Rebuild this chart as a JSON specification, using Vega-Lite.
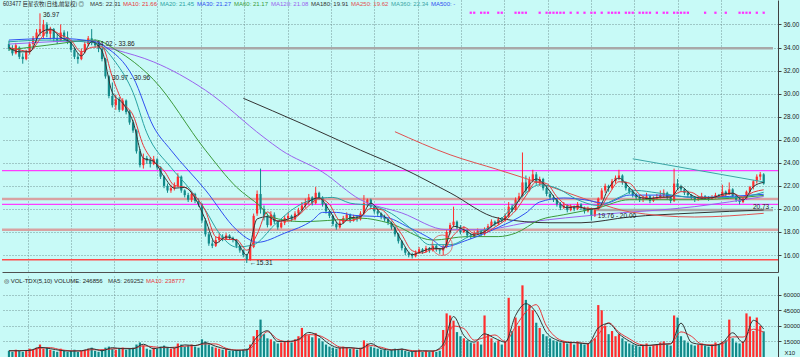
{
"$schema":"https://vega.github.io/schema/vega-lite/v6.json",
"background":"#c8faf7",
"padding":0,
"spacing":4,
"resolve":{"scale":{"color":"independent"},"legend":{"color":"independent"}},
"config":{"view":{"stroke":null},"font":"Liberation Sans","axis":{"labelFont":"Liberation Sans","labelFontSize":6.3,"labelColor":"#202020","domainColor":"#404040","tickColor":"#404040","gridColor":"#6a8c8d","gridDash":[1,2],"gridOpacity":0.9}},
"datasets":{
"k":[
{"i":0,"o":34.3,"h":34.6,"l":33.7,"c":33.9,"v":6000},{"i":1,"o":33.9,"h":34.2,"l":33.3,"c":33.5,"v":5000},{"i":2,"o":33.5,"h":34.4,"l":33.4,"c":34.2,"v":7000},{"i":3,"o":34.0,"h":34.1,"l":33.0,"c":33.2,"v":6000},{"i":4,"o":33.2,"h":33.5,"l":32.6,"c":33.0,"v":5000},
{"i":5,"o":33.0,"h":33.8,"l":32.9,"c":33.6,"v":6000},{"i":6,"o":33.6,"h":34.5,"l":33.4,"c":34.3,"v":8000},{"i":7,"o":34.3,"h":35.0,"l":34.0,"c":34.8,"v":7000},{"i":8,"o":34.8,"h":35.6,"l":34.5,"c":35.3,"v":9000},{"i":9,"o":35.3,"h":36.97,"l":35.0,"c":35.6,"v":12000},
{"i":10,"o":35.0,"h":36.4,"l":34.8,"c":36.0,"v":8000},{"i":11,"o":36.0,"h":36.2,"l":34.9,"c":35.2,"v":9000},{"i":12,"o":35.2,"h":35.8,"l":34.7,"c":35.6,"v":7000},{"i":13,"o":35.6,"h":35.7,"l":34.5,"c":34.8,"v":6000},{"i":14,"o":34.8,"h":35.2,"l":34.3,"c":34.6,"v":5000},
{"i":15,"o":34.6,"h":36.0,"l":34.5,"c":35.3,"v":8000},{"i":16,"o":35.3,"h":35.5,"l":34.6,"c":34.9,"v":6000},{"i":17,"o":34.9,"h":35.4,"l":34.3,"c":34.5,"v":5000},{"i":18,"o":34.5,"h":34.6,"l":33.6,"c":33.8,"v":6000},{"i":19,"o":33.8,"h":34.0,"l":33.0,"c":33.2,"v":7000},
{"i":20,"o":33.2,"h":33.5,"l":32.6,"c":33.0,"v":5000},{"i":21,"o":33.0,"h":33.9,"l":32.9,"c":33.6,"v":6000},{"i":22,"o":33.6,"h":34.5,"l":33.5,"c":34.3,"v":7000},{"i":23,"o":34.3,"h":35.0,"l":34.1,"c":34.8,"v":8000},{"i":24,"o":34.8,"h":35.6,"l":34.2,"c":34.4,"v":9000},
{"i":25,"o":34.4,"h":34.7,"l":34.0,"c":34.2,"v":6000},{"i":26,"o":34.2,"h":34.5,"l":33.6,"c":33.9,"v":5000},{"i":27,"o":33.9,"h":34.0,"l":32.8,"c":33.0,"v":7000},{"i":28,"o":33.0,"h":33.1,"l":31.3,"c":31.5,"v":9000},{"i":29,"o":31.5,"h":31.6,"l":29.6,"c":29.8,"v":10000},
{"i":30,"o":29.8,"h":30.97,"l":28.8,"c":29.0,"v":8000},{"i":31,"o":29.0,"h":29.9,"l":28.6,"c":29.5,"v":7000},{"i":32,"o":29.5,"h":29.7,"l":28.4,"c":28.6,"v":8000},{"i":33,"o":28.6,"h":29.6,"l":28.5,"c":29.4,"v":9000},{"i":34,"o":29.4,"h":29.5,"l":28.2,"c":28.4,"v":7000},
{"i":35,"o":28.4,"h":28.6,"l":27.3,"c":27.5,"v":8000},{"i":36,"o":27.5,"h":27.7,"l":26.6,"c":26.8,"v":9000},{"i":37,"o":26.8,"h":26.9,"l":24.8,"c":25.0,"v":12000},{"i":38,"o":25.0,"h":25.2,"l":23.6,"c":23.8,"v":14000},{"i":39,"o":23.8,"h":24.8,"l":23.5,"c":24.4,"v":11000},
{"i":40,"o":24.4,"h":24.6,"l":23.9,"c":24.2,"v":8000},{"i":41,"o":24.2,"h":24.5,"l":23.6,"c":23.9,"v":7000},{"i":42,"o":23.9,"h":24.6,"l":23.8,"c":24.3,"v":9000},{"i":43,"o":24.3,"h":24.4,"l":23.4,"c":23.6,"v":8000},{"i":44,"o":23.6,"h":23.7,"l":22.6,"c":22.8,"v":10000},
{"i":45,"o":22.8,"h":22.9,"l":21.8,"c":22.0,"v":11000},{"i":46,"o":22.0,"h":22.2,"l":21.4,"c":21.6,"v":9000},{"i":47,"o":21.6,"h":22.1,"l":21.4,"c":21.8,"v":8000},{"i":48,"o":21.8,"h":22.3,"l":21.6,"c":22.0,"v":9000},{"i":49,"o":22.0,"h":23.1,"l":21.9,"c":22.8,"v":13000},
{"i":50,"o":22.8,"h":22.9,"l":21.4,"c":21.6,"v":12000},{"i":51,"o":21.6,"h":21.7,"l":21.0,"c":21.2,"v":10000},{"i":52,"o":21.2,"h":21.4,"l":20.6,"c":20.8,"v":11000},{"i":53,"o":20.8,"h":21.5,"l":20.6,"c":21.3,"v":12000},{"i":54,"o":21.3,"h":21.4,"l":20.5,"c":20.7,"v":10000},
{"i":55,"o":20.7,"h":20.9,"l":20.2,"c":20.4,"v":9000},{"i":56,"o":20.4,"h":20.5,"l":18.8,"c":19.0,"v":17000},{"i":57,"o":19.0,"h":19.2,"l":17.6,"c":17.8,"v":15000},{"i":58,"o":17.8,"h":18.0,"l":16.8,"c":17.0,"v":12000},{"i":59,"o":17.0,"h":17.3,"l":16.6,"c":16.8,"v":10000},
{"i":60,"o":16.8,"h":17.6,"l":16.7,"c":17.3,"v":9000},{"i":61,"o":17.3,"h":17.9,"l":17.1,"c":17.6,"v":8000},{"i":62,"o":17.6,"h":17.8,"l":17.2,"c":17.4,"v":7000},{"i":63,"o":17.4,"h":17.9,"l":17.3,"c":17.7,"v":8000},{"i":64,"o":17.7,"h":17.8,"l":17.3,"c":17.5,"v":6000},
{"i":65,"o":17.5,"h":17.6,"l":17.1,"c":17.3,"v":6000},{"i":66,"o":17.3,"h":17.4,"l":16.6,"c":16.8,"v":7000},{"i":67,"o":16.8,"h":16.9,"l":16.2,"c":16.4,"v":6000},{"i":68,"o":16.4,"h":16.5,"l":15.8,"c":16.0,"v":7000},{"i":69,"o":16.0,"h":16.1,"l":15.31,"c":15.6,"v":8000},
{"i":70,"o":15.6,"h":16.9,"l":15.5,"c":16.7,"v":12000},{"i":71,"o":16.7,"h":19.6,"l":16.6,"c":19.4,"v":20000},{"i":72,"o":19.6,"h":21.6,"l":19.4,"c":21.3,"v":26000},{"i":73,"o":21.3,"h":23.5,"l":19.6,"c":20.0,"v":36000},{"i":74,"o":20.0,"h":20.3,"l":19.0,"c":19.4,"v":22000},
{"i":75,"o":19.4,"h":19.6,"l":18.4,"c":18.6,"v":18000},{"i":76,"o":18.6,"h":19.8,"l":18.5,"c":19.5,"v":17000},{"i":77,"o":19.5,"h":19.7,"l":18.7,"c":18.9,"v":15000},{"i":78,"o":18.9,"h":19.0,"l":18.2,"c":18.4,"v":13000},{"i":79,"o":18.4,"h":19.0,"l":18.3,"c":18.8,"v":14000},
{"i":80,"o":18.8,"h":19.4,"l":18.6,"c":19.2,"v":15000},{"i":81,"o":19.2,"h":19.7,"l":19.0,"c":19.4,"v":16000},{"i":82,"o":19.4,"h":19.5,"l":18.9,"c":19.1,"v":14000},{"i":83,"o":19.1,"h":19.8,"l":19.0,"c":19.6,"v":17000},{"i":84,"o":19.6,"h":20.1,"l":19.4,"c":19.9,"v":20000},
{"i":85,"o":19.9,"h":20.6,"l":19.8,"c":20.3,"v":28000},{"i":86,"o":20.3,"h":20.9,"l":20.1,"c":20.6,"v":22000},{"i":87,"o":20.6,"h":21.3,"l":20.4,"c":21.0,"v":21000},{"i":88,"o":21.0,"h":21.1,"l":20.3,"c":20.5,"v":19000},{"i":89,"o":20.5,"h":21.9,"l":20.4,"c":21.4,"v":23000},
{"i":90,"o":21.4,"h":21.5,"l":20.8,"c":21.0,"v":18000},{"i":91,"o":21.0,"h":21.1,"l":20.2,"c":20.4,"v":15000},{"i":92,"o":20.4,"h":20.5,"l":19.6,"c":19.8,"v":12000},{"i":93,"o":19.8,"h":19.9,"l":19.2,"c":19.4,"v":10000},{"i":94,"o":19.4,"h":19.5,"l":18.5,"c":18.7,"v":9000},
{"i":95,"o":18.7,"h":18.9,"l":18.2,"c":18.4,"v":8000},{"i":96,"o":18.4,"h":19.0,"l":18.3,"c":18.8,"v":9000},{"i":97,"o":18.8,"h":19.4,"l":18.7,"c":19.2,"v":10000},{"i":98,"o":19.2,"h":19.7,"l":19.0,"c":19.5,"v":9000},{"i":99,"o":19.5,"h":19.6,"l":18.8,"c":19.0,"v":8000},
{"i":100,"o":19.0,"h":19.5,"l":18.9,"c":19.3,"v":8000},{"i":101,"o":19.3,"h":19.4,"l":18.9,"c":19.1,"v":7000},{"i":102,"o":19.1,"h":19.8,"l":19.0,"c":19.6,"v":9000},{"i":103,"o":19.6,"h":21.2,"l":19.5,"c":20.5,"v":16000},{"i":104,"o":20.5,"h":20.9,"l":20.2,"c":20.8,"v":13000},
{"i":105,"o":20.8,"h":20.9,"l":20.0,"c":20.2,"v":10000},{"i":106,"o":20.2,"h":20.3,"l":19.6,"c":19.8,"v":9000},{"i":107,"o":19.8,"h":20.0,"l":19.4,"c":19.6,"v":8000},{"i":108,"o":19.6,"h":19.7,"l":19.1,"c":19.3,"v":7000},{"i":109,"o":19.3,"h":19.5,"l":18.9,"c":19.1,"v":7000},
{"i":110,"o":19.1,"h":19.2,"l":18.6,"c":18.8,"v":6000},{"i":111,"o":18.8,"h":18.9,"l":18.2,"c":18.4,"v":7000},{"i":112,"o":18.4,"h":18.5,"l":17.6,"c":17.8,"v":8000},{"i":113,"o":17.8,"h":17.9,"l":17.0,"c":17.2,"v":7000},{"i":114,"o":17.2,"h":17.3,"l":16.4,"c":16.6,"v":8000},
{"i":115,"o":16.6,"h":16.7,"l":16.0,"c":16.2,"v":6000},{"i":116,"o":16.2,"h":16.3,"l":15.8,"c":16.0,"v":5000},{"i":117,"o":16.0,"h":16.2,"l":15.7,"c":15.9,"v":5000},{"i":118,"o":15.9,"h":16.4,"l":15.8,"c":16.2,"v":6000},{"i":119,"o":16.2,"h":16.7,"l":16.1,"c":16.5,"v":7000},
{"i":120,"o":16.5,"h":16.6,"l":16.1,"c":16.3,"v":5000},{"i":121,"o":16.3,"h":16.8,"l":16.2,"c":16.6,"v":6000},{"i":122,"o":16.6,"h":16.7,"l":16.2,"c":16.4,"v":5000},{"i":123,"o":16.4,"h":17.0,"l":16.3,"c":16.8,"v":6000},{"i":124,"o":16.8,"h":16.9,"l":16.3,"c":16.5,"v":5000},
{"i":125,"o":16.5,"h":16.6,"l":16.1,"c":16.4,"v":6000},{"i":126,"o":16.4,"h":16.9,"l":16.0,"c":16.7,"v":26000},{"i":127,"o":16.7,"h":18.2,"l":16.6,"c":18.0,"v":42000},{"i":128,"o":18.0,"h":18.8,"l":17.8,"c":18.6,"v":40000},{"i":129,"o":18.6,"h":20.2,"l":18.4,"c":18.9,"v":35000},
{"i":130,"o":18.9,"h":19.0,"l":18.2,"c":18.4,"v":24000},{"i":131,"o":18.4,"h":18.6,"l":17.8,"c":18.0,"v":20000},{"i":132,"o":18.0,"h":18.5,"l":17.9,"c":18.2,"v":18000},{"i":133,"o":18.2,"h":18.3,"l":17.5,"c":17.7,"v":16000},{"i":134,"o":17.7,"h":17.9,"l":17.4,"c":17.6,"v":14000},
{"i":135,"o":17.6,"h":18.1,"l":17.5,"c":17.9,"v":13000},{"i":136,"o":17.9,"h":18.3,"l":17.8,"c":18.1,"v":15000},{"i":137,"o":18.1,"h":18.2,"l":17.6,"c":17.8,"v":12000},{"i":138,"o":17.8,"h":18.4,"l":17.7,"c":18.2,"v":40000},{"i":139,"o":18.2,"h":18.7,"l":18.0,"c":18.5,"v":22000},
{"i":140,"o":18.5,"h":19.1,"l":18.4,"c":18.9,"v":18000},{"i":141,"o":18.9,"h":19.0,"l":18.5,"c":18.7,"v":14000},{"i":142,"o":18.7,"h":19.3,"l":18.6,"c":19.1,"v":16000},{"i":143,"o":19.1,"h":19.3,"l":18.8,"c":19.0,"v":12000},{"i":144,"o":19.0,"h":19.6,"l":18.9,"c":19.4,"v":15000},
{"i":145,"o":19.4,"h":20.6,"l":19.3,"c":20.2,"v":57000},{"i":146,"o":20.2,"h":20.4,"l":19.7,"c":19.9,"v":25000},{"i":147,"o":19.9,"h":21.0,"l":19.8,"c":20.8,"v":38000},{"i":148,"o":20.8,"h":21.4,"l":20.6,"c":21.1,"v":30000},{"i":149,"o":21.1,"h":24.9,"l":21.0,"c":22.3,"v":69000},
{"i":150,"o":22.3,"h":22.9,"l":21.4,"c":21.6,"v":55000},{"i":151,"o":21.6,"h":22.8,"l":21.5,"c":22.5,"v":50000},{"i":152,"o":22.5,"h":23.4,"l":22.3,"c":23.0,"v":45000},{"i":153,"o":23.0,"h":23.2,"l":22.1,"c":22.3,"v":33000},{"i":154,"o":22.3,"h":22.8,"l":22.0,"c":22.6,"v":28000},
{"i":155,"o":22.6,"h":22.7,"l":21.6,"c":21.8,"v":22000},{"i":156,"o":21.8,"h":22.0,"l":21.1,"c":21.3,"v":20000},{"i":157,"o":21.3,"h":21.5,"l":20.8,"c":21.0,"v":18000},{"i":158,"o":21.0,"h":21.2,"l":20.6,"c":20.8,"v":16000},{"i":159,"o":20.8,"h":20.9,"l":20.2,"c":20.4,"v":15000},
{"i":160,"o":20.4,"h":20.6,"l":19.9,"c":20.1,"v":14000},{"i":161,"o":20.1,"h":20.6,"l":20.0,"c":20.3,"v":15000},{"i":162,"o":20.3,"h":20.4,"l":19.7,"c":19.9,"v":13000},{"i":163,"o":19.9,"h":20.4,"l":19.8,"c":20.2,"v":14000},{"i":164,"o":20.2,"h":20.3,"l":19.8,"c":20.0,"v":12000},
{"i":165,"o":20.0,"h":20.6,"l":19.9,"c":20.4,"v":15000},{"i":166,"o":20.4,"h":20.5,"l":19.9,"c":20.1,"v":13000},{"i":167,"o":20.1,"h":20.2,"l":19.6,"c":19.8,"v":12000},{"i":168,"o":19.8,"h":20.2,"l":19.7,"c":20.0,"v":13000},{"i":169,"o":20.0,"h":20.1,"l":19.0,"c":19.4,"v":16000},
{"i":170,"o":19.4,"h":20.0,"l":19.3,"c":19.9,"v":18000},{"i":171,"o":20.0,"h":21.0,"l":19.9,"c":20.9,"v":50000},{"i":172,"o":20.9,"h":21.8,"l":20.8,"c":21.6,"v":45000},{"i":173,"o":21.6,"h":22.2,"l":21.4,"c":22.0,"v":30000},{"i":174,"o":22.0,"h":22.1,"l":21.5,"c":21.8,"v":22000},
{"i":175,"o":21.8,"h":22.6,"l":21.7,"c":22.4,"v":25000},{"i":176,"o":22.4,"h":22.9,"l":22.2,"c":22.7,"v":20000},{"i":177,"o":22.7,"h":23.4,"l":22.5,"c":22.9,"v":22000},{"i":178,"o":22.9,"h":23.0,"l":22.1,"c":22.3,"v":18000},{"i":179,"o":22.3,"h":22.4,"l":21.6,"c":21.8,"v":15000},
{"i":180,"o":21.8,"h":21.9,"l":21.3,"c":21.5,"v":13000},{"i":181,"o":21.5,"h":21.7,"l":21.0,"c":21.2,"v":12000},{"i":182,"o":21.2,"h":21.4,"l":20.8,"c":21.0,"v":11000},{"i":183,"o":21.0,"h":21.2,"l":20.6,"c":20.8,"v":10000},{"i":184,"o":20.8,"h":21.1,"l":20.6,"c":20.9,"v":11000},
{"i":185,"o":20.9,"h":21.4,"l":20.8,"c":21.1,"v":13000},{"i":186,"o":21.1,"h":21.2,"l":20.5,"c":20.7,"v":10000},{"i":187,"o":20.7,"h":21.1,"l":20.6,"c":20.9,"v":11000},{"i":188,"o":20.9,"h":21.3,"l":20.8,"c":21.0,"v":12000},{"i":189,"o":21.0,"h":21.6,"l":20.9,"c":21.2,"v":14000},
{"i":190,"o":21.2,"h":21.7,"l":21.0,"c":21.4,"v":15000},{"i":191,"o":21.4,"h":21.5,"l":20.8,"c":21.0,"v":12000},{"i":192,"o":21.0,"h":21.1,"l":20.5,"c":20.7,"v":11000},{"i":193,"o":20.7,"h":23.5,"l":20.6,"c":22.2,"v":40000},{"i":194,"o":22.2,"h":22.6,"l":21.7,"c":21.9,"v":38000},
{"i":195,"o":21.9,"h":22.1,"l":21.5,"c":21.7,"v":20000},{"i":196,"o":21.7,"h":21.8,"l":21.2,"c":21.4,"v":16000},{"i":197,"o":21.4,"h":21.6,"l":21.0,"c":21.2,"v":14000},{"i":198,"o":21.2,"h":21.3,"l":20.8,"c":21.0,"v":12000},{"i":199,"o":21.0,"h":21.1,"l":20.6,"c":20.8,"v":11000},
{"i":200,"o":20.8,"h":21.1,"l":20.7,"c":20.9,"v":12000},{"i":201,"o":20.9,"h":21.4,"l":20.8,"c":21.1,"v":13000},{"i":202,"o":21.1,"h":21.2,"l":20.8,"c":21.0,"v":11000},{"i":203,"o":21.0,"h":21.1,"l":20.7,"c":20.9,"v":10000},{"i":204,"o":20.9,"h":21.2,"l":20.8,"c":21.0,"v":12000},
{"i":205,"o":21.0,"h":21.4,"l":20.9,"c":21.2,"v":14000},{"i":206,"o":21.2,"h":21.3,"l":20.9,"c":21.1,"v":12000},{"i":207,"o":21.1,"h":22.1,"l":21.0,"c":21.5,"v":15000},{"i":208,"o":21.5,"h":21.6,"l":21.1,"c":21.3,"v":16000},{"i":209,"o":21.3,"h":22.3,"l":21.2,"c":21.7,"v":36000},
{"i":210,"o":21.7,"h":21.8,"l":21.0,"c":21.1,"v":18000},{"i":211,"o":21.1,"h":21.2,"l":20.6,"c":20.8,"v":14000},{"i":212,"o":20.8,"h":21.0,"l":20.4,"c":20.6,"v":13000},{"i":213,"o":20.6,"h":21.0,"l":20.5,"c":20.9,"v":15000},{"i":214,"o":20.9,"h":21.6,"l":20.8,"c":21.5,"v":42000},
{"i":215,"o":21.5,"h":22.0,"l":21.3,"c":21.9,"v":39000},{"i":216,"o":21.9,"h":22.5,"l":21.7,"c":22.4,"v":25000},{"i":217,"o":22.4,"h":23.0,"l":22.2,"c":22.8,"v":38000},{"i":218,"o":22.8,"h":23.2,"l":22.5,"c":23.0,"v":30000},{"i":219,"o":23.0,"h":23.1,"l":22.1,"c":22.2,"v":24700}
],
"ma":[
{"n":"MA120","i":0,"p":34.3},{"n":"MA120","i":25,"p":34.6},{"n":"MA120","i":28,"p":34.05},{"n":"MA120","i":31,"p":33.8},{"n":"MA120","i":42,"p":32.75},{"n":"MA120","i":57,"p":30.3},{"n":"MA120","i":74,"p":26.2},{"n":"MA120","i":79,"p":25.1},{"n":"MA120","i":91,"p":23.2},{"n":"MA120","i":102,"p":20.8},{"n":"MA120","i":114,"p":19.65},{"n":"MA120","i":127,"p":18.2},{"n":"MA120","i":137,"p":18.2},{"n":"MA120","i":152,"p":18.9},{"n":"MA120","i":171,"p":19.5},{"n":"MA120","i":199,"p":20.2},{"n":"MA120","i":219,"p":21.08},
{"n":"MA180","i":68,"p":29.6},{"n":"MA180","i":85,"p":27.4},{"n":"MA180","i":102,"p":25.1},{"n":"MA180","i":114,"p":23.55},{"n":"MA180","i":128,"p":21.4},{"n":"MA180","i":142,"p":19.2},{"n":"MA180","i":157,"p":18.8},{"n":"MA180","i":166,"p":18.8},{"n":"MA180","i":180,"p":19.3},{"n":"MA180","i":199,"p":19.65},{"n":"MA180","i":219,"p":19.91},
{"n":"MA250","i":112,"p":26.7},{"n":"MA250","i":128,"p":24.7},{"n":"MA250","i":142,"p":23.4},{"n":"MA250","i":154,"p":22.25},{"n":"MA250","i":171,"p":20.5},{"n":"MA250","i":180,"p":19.75},{"n":"MA250","i":199,"p":19.3},{"n":"MA250","i":219,"p":19.62},
{"n":"MA360","i":181,"p":24.35},{"n":"MA360","i":219,"p":22.34},
{"n":"MA60","i":0,"p":33.8},{"n":"MA60","i":11,"p":34.2},{"n":"MA60","i":25,"p":34.65},{"n":"MA60","i":31,"p":33.8},{"n":"MA60","i":42,"p":31.2},{"n":"MA60","i":57,"p":25.1},{"n":"MA60","i":66,"p":21.9},{"n":"MA60","i":73,"p":20.2},{"n":"MA60","i":76,"p":19.3},{"n":"MA60","i":85,"p":18.9},{"n":"MA60","i":95,"p":19.05},{"n":"MA60","i":102,"p":19.2},{"n":"MA60","i":110,"p":18.8},{"n":"MA60","i":123,"p":17.3},{"n":"MA60","i":133,"p":17.6},{"n":"MA60","i":142,"p":17.6},{"n":"MA60","i":147,"p":17.9},{"n":"MA60","i":154,"p":19.05},{"n":"MA60","i":161,"p":19.5},{"n":"MA60","i":171,"p":20.1},{"n":"MA60","i":180,"p":20.8},{"n":"MA60","i":199,"p":20.8},{"n":"MA60","i":219,"p":21.17},
{"n":"MA30","i":0,"p":34.65},{"n":"MA30","i":14,"p":34.8},{"n":"MA30","i":25,"p":34.5},{"n":"MA30","i":28,"p":34.05},{"n":"MA30","i":36,"p":31.45},{"n":"MA30","i":42,"p":27.1},{"n":"MA30","i":47,"p":25.1},{"n":"MA30","i":57,"p":21.65},{"n":"MA30","i":66,"p":18.2},{"n":"MA30","i":70,"p":17.3},{"n":"MA30","i":72,"p":17.1},{"n":"MA30","i":80,"p":17.9},{"n":"MA30","i":88,"p":19.0},{"n":"MA30","i":91,"p":19.7},{"n":"MA30","i":95,"p":19.7},{"n":"MA30","i":100,"p":19.45},{"n":"MA30","i":109,"p":19.3},{"n":"MA30","i":116,"p":18.4},{"n":"MA30","i":123,"p":17.3},{"n":"MA30","i":126,"p":16.7},{"n":"MA30","i":133,"p":17.3},{"n":"MA30","i":142,"p":18.4},{"n":"MA30","i":150,"p":19.65},{"n":"MA30","i":154,"p":20.6},{"n":"MA30","i":161,"p":20.95},{"n":"MA30","i":167,"p":20.8},{"n":"MA30","i":173,"p":20.5},{"n":"MA30","i":180,"p":21.2},{"n":"MA30","i":190,"p":21.2},{"n":"MA30","i":199,"p":21.0},{"n":"MA30","i":219,"p":21.27},
{"n":"MA20","i":0,"p":34.5},{"n":"MA20","i":11,"p":34.65},{"n":"MA20","i":25,"p":34.4},{"n":"MA20","i":31,"p":32.7},{"n":"MA20","i":36,"p":30.1},{"n":"MA20","i":40,"p":26.6},{"n":"MA20","i":47,"p":23.6},{"n":"MA20","i":52,"p":21.9},{"n":"MA20","i":57,"p":19.9},{"n":"MA20","i":61,"p":17.9},{"n":"MA20","i":66,"p":16.7},{"n":"MA20","i":71,"p":16.9},{"n":"MA20","i":77,"p":18.6},{"n":"MA20","i":82,"p":19.9},{"n":"MA20","i":88,"p":20.8},{"n":"MA20","i":94,"p":21.0},{"n":"MA20","i":99,"p":20.5},{"n":"MA20","i":105,"p":20.3},{"n":"MA20","i":111,"p":19.6},{"n":"MA20","i":117,"p":18.2},{"n":"MA20","i":122,"p":16.9},{"n":"MA20","i":128,"p":16.9},{"n":"MA20","i":134,"p":17.7},{"n":"MA20","i":142,"p":18.9},{"n":"MA20","i":148,"p":20.8},{"n":"MA20","i":154,"p":22.1},{"n":"MA20","i":159,"p":21.8},{"n":"MA20","i":165,"p":20.8},{"n":"MA20","i":171,"p":20.3},{"n":"MA20","i":177,"p":21.0},{"n":"MA20","i":182,"p":21.6},{"n":"MA20","i":188,"p":21.4},{"n":"MA20","i":199,"p":21.0},{"n":"MA20","i":211,"p":21.0},{"n":"MA20","i":219,"p":21.45},
{"n":"MA10","i":0,"p":34.0},{"n":"MA10","i":3,"p":33.8},{"n":"MA10","i":6,"p":33.66},{"n":"MA10","i":9,"p":34.72},{"n":"MA10","i":12,"p":35.54},{"n":"MA10","i":15,"p":35.1},{"n":"MA10","i":18,"p":34.62},{"n":"MA10","i":21,"p":33.62},{"n":"MA10","i":24,"p":34.02},{"n":"MA10","i":27,"p":34.06},{"n":"MA10","i":30,"p":31.44},{"n":"MA10","i":33,"p":29.26},{"n":"MA10","i":36,"p":28.14},{"n":"MA10","i":39,"p":25.5},{"n":"MA10","i":42,"p":24.12},{"n":"MA10","i":45,"p":23.32},{"n":"MA10","i":48,"p":22.04},{"n":"MA10","i":51,"p":21.88},{"n":"MA10","i":54,"p":21.12},{"n":"MA10","i":57,"p":19.84},{"n":"MA10","i":60,"p":17.58},{"n":"MA10","i":63,"p":17.36},{"n":"MA10","i":66,"p":17.34},{"n":"MA10","i":69,"p":16.42},{"n":"MA10","i":72,"p":17.8},{"n":"MA10","i":75,"p":19.74},{"n":"MA10","i":78,"p":18.96},{"n":"MA10","i":81,"p":18.94},{"n":"MA10","i":84,"p":19.44},{"n":"MA10","i":87,"p":20.28},{"n":"MA10","i":90,"p":20.9},{"n":"MA10","i":93,"p":20.4},{"n":"MA10","i":96,"p":19.02},{"n":"MA10","i":99,"p":18.98},{"n":"MA10","i":102,"p":19.3},{"n":"MA10","i":105,"p":20.04},{"n":"MA10","i":108,"p":19.94},{"n":"MA10","i":111,"p":19.04},{"n":"MA10","i":114,"p":17.76},{"n":"MA10","i":117,"p":16.38},{"n":"MA10","i":120,"p":16.18},{"n":"MA10","i":123,"p":16.52},{"n":"MA10","i":126,"p":16.56},{"n":"MA10","i":129,"p":17.72},{"n":"MA10","i":132,"p":18.42},{"n":"MA10","i":135,"p":17.88},{"n":"MA10","i":138,"p":17.92},{"n":"MA10","i":141,"p":18.42},{"n":"MA10","i":144,"p":19.02},{"n":"MA10","i":147,"p":19.86},{"n":"MA10","i":150,"p":21.14},{"n":"MA10","i":153,"p":22.34},{"n":"MA10","i":156,"p":22.2},{"n":"MA10","i":159,"p":21.06},{"n":"MA10","i":162,"p":20.3},{"n":"MA10","i":165,"p":20.16},{"n":"MA10","i":168,"p":20.06},{"n":"MA10","i":171,"p":20.0},{"n":"MA10","i":174,"p":21.24},{"n":"MA10","i":177,"p":22.36},{"n":"MA10","i":180,"p":22.24},{"n":"MA10","i":183,"p":21.26},{"n":"MA10","i":186,"p":20.9},{"n":"MA10","i":189,"p":20.98},{"n":"MA10","i":192,"p":21.06},{"n":"MA10","i":195,"p":21.5},{"n":"MA10","i":198,"p":21.44},{"n":"MA10","i":201,"p":21.0},{"n":"MA10","i":204,"p":20.98},{"n":"MA10","i":207,"p":21.14},{"n":"MA10","i":210,"p":21.34},{"n":"MA10","i":213,"p":21.02},{"n":"MA10","i":216,"p":21.46},{"n":"MA10","i":219,"p":21.66},
{"n":"MA5","i":0,"p":34.0},{"n":"MA5","i":3,"p":33.63},{"n":"MA5","i":6,"p":33.63},{"n":"MA5","i":9,"p":35.23},{"n":"MA5","i":12,"p":35.6},{"n":"MA5","i":15,"p":34.9},{"n":"MA5","i":18,"p":34.4},{"n":"MA5","i":21,"p":33.27},{"n":"MA5","i":24,"p":34.5},{"n":"MA5","i":27,"p":33.7},{"n":"MA5","i":30,"p":30.1},{"n":"MA5","i":33,"p":29.17},{"n":"MA5","i":36,"p":27.57},{"n":"MA5","i":39,"p":24.4},{"n":"MA5","i":42,"p":24.13},{"n":"MA5","i":45,"p":22.8},{"n":"MA5","i":48,"p":21.8},{"n":"MA5","i":51,"p":21.87},{"n":"MA5","i":54,"p":20.93},{"n":"MA5","i":57,"p":19.07},{"n":"MA5","i":60,"p":17.03},{"n":"MA5","i":63,"p":17.57},{"n":"MA5","i":66,"p":17.2},{"n":"MA5","i":69,"p":16.0},{"n":"MA5","i":72,"p":19.13},{"n":"MA5","i":75,"p":19.33},{"n":"MA5","i":78,"p":18.93},{"n":"MA5","i":81,"p":19.13},{"n":"MA5","i":84,"p":19.53},{"n":"MA5","i":87,"p":20.63},{"n":"MA5","i":90,"p":20.97},{"n":"MA5","i":93,"p":19.87},{"n":"MA5","i":96,"p":18.63},{"n":"MA5","i":99,"p":19.23},{"n":"MA5","i":102,"p":19.33},{"n":"MA5","i":105,"p":20.5},{"n":"MA5","i":108,"p":19.57},{"n":"MA5","i":111,"p":18.77},{"n":"MA5","i":114,"p":17.2},{"n":"MA5","i":117,"p":16.03},{"n":"MA5","i":120,"p":16.33},{"n":"MA5","i":123,"p":16.6},{"n":"MA5","i":126,"p":16.53},{"n":"MA5","i":129,"p":18.5},{"n":"MA5","i":132,"p":18.2},{"n":"MA5","i":135,"p":17.73},{"n":"MA5","i":138,"p":18.03},{"n":"MA5","i":141,"p":18.7},{"n":"MA5","i":144,"p":19.17},{"n":"MA5","i":147,"p":20.3},{"n":"MA5","i":150,"p":21.67},{"n":"MA5","i":153,"p":22.6},{"n":"MA5","i":156,"p":21.9},{"n":"MA5","i":159,"p":20.73},{"n":"MA5","i":162,"p":20.1},{"n":"MA5","i":165,"p":20.2},{"n":"MA5","i":168,"p":19.97},{"n":"MA5","i":171,"p":20.07},{"n":"MA5","i":174,"p":21.8},{"n":"MA5","i":177,"p":22.67},{"n":"MA5","i":180,"p":21.87},{"n":"MA5","i":183,"p":21.0},{"n":"MA5","i":186,"p":20.9},{"n":"MA5","i":189,"p":21.03},{"n":"MA5","i":192,"p":21.03},{"n":"MA5","i":195,"p":21.93},{"n":"MA5","i":198,"p":21.2},{"n":"MA5","i":201,"p":20.93},{"n":"MA5","i":204,"p":20.97},{"n":"MA5","i":207,"p":21.27},{"n":"MA5","i":210,"p":21.37},{"n":"MA5","i":213,"p":20.77},{"n":"MA5","i":216,"p":21.93},{"n":"MA5","i":219,"p":22.31}
],
"vma":[
{"n":"MA10","i":0,"v":6000},{"n":"MA10","i":6,"v":6400},{"n":"MA10","i":9,"v":8400},{"n":"MA10","i":12,"v":9000},{"n":"MA10","i":15,"v":7000},{"n":"MA10","i":18,"v":6000},{"n":"MA10","i":21,"v":5800},{"n":"MA10","i":24,"v":7000},{"n":"MA10","i":27,"v":7000},{"n":"MA10","i":30,"v":7800},{"n":"MA10","i":33,"v":8400},{"n":"MA10","i":36,"v":8200},{"n":"MA10","i":39,"v":10800},{"n":"MA10","i":42,"v":9800},{"n":"MA10","i":45,"v":9000},{"n":"MA10","i":48,"v":9400},{"n":"MA10","i":51,"v":10400},{"n":"MA10","i":54,"v":11000},{"n":"MA10","i":57,"v":12600},{"n":"MA10","i":60,"v":12600},{"n":"MA10","i":63,"v":8400},{"n":"MA10","i":66,"v":6800},{"n":"MA10","i":69,"v":6800},{"n":"MA10","i":72,"v":14600},{"n":"MA10","i":75,"v":24400},{"n":"MA10","i":78,"v":17000},{"n":"MA10","i":81,"v":14600},{"n":"MA10","i":84,"v":16400},{"n":"MA10","i":87,"v":21600},{"n":"MA10","i":90,"v":20600},{"n":"MA10","i":93,"v":15600},{"n":"MA10","i":96,"v":9600},{"n":"MA10","i":99,"v":8800},{"n":"MA10","i":102,"v":8200},{"n":"MA10","i":105,"v":11000},{"n":"MA10","i":108,"v":9400},{"n":"MA10","i":111,"v":7000},{"n":"MA10","i":114,"v":7200},{"n":"MA10","i":117,"v":6200},{"n":"MA10","i":120,"v":5600},{"n":"MA10","i":123,"v":5800},{"n":"MA10","i":126,"v":9600},{"n":"MA10","i":129,"v":29800},{"n":"MA10","i":132,"v":27400},{"n":"MA10","i":135,"v":16200},{"n":"MA10","i":138,"v":18800},{"n":"MA10","i":141,"v":21200},{"n":"MA10","i":144,"v":15000},{"n":"MA10","i":147,"v":29400},{"n":"MA10","i":150,"v":43400},{"n":"MA10","i":153,"v":50400},{"n":"MA10","i":156,"v":29600},{"n":"MA10","i":159,"v":18200},{"n":"MA10","i":162,"v":14600},{"n":"MA10","i":165,"v":13800},{"n":"MA10","i":168,"v":13000},{"n":"MA10","i":171,"v":21800},{"n":"MA10","i":174,"v":33000},{"n":"MA10","i":177,"v":23800},{"n":"MA10","i":180,"v":17600},{"n":"MA10","i":183,"v":12200},{"n":"MA10","i":186,"v":11000},{"n":"MA10","i":189,"v":12000},{"n":"MA10","i":192,"v":12800},{"n":"MA10","i":195,"v":24200},{"n":"MA10","i":198,"v":20000},{"n":"MA10","i":201,"v":12400},{"n":"MA10","i":204,"v":11600},{"n":"MA10","i":207,"v":12600},{"n":"MA10","i":210,"v":19400},{"n":"MA10","i":213,"v":19200},{"n":"MA10","i":216,"v":26800},{"n":"MA10","i":219,"v":23878},
{"n":"MA5","i":0,"v":6000},{"n":"MA5","i":3,"v":6000},{"n":"MA5","i":6,"v":6330},{"n":"MA5","i":9,"v":9330},{"n":"MA5","i":12,"v":8000},{"n":"MA5","i":15,"v":6330},{"n":"MA5","i":18,"v":5670},{"n":"MA5","i":21,"v":6000},{"n":"MA5","i":24,"v":8000},{"n":"MA5","i":27,"v":6000},{"n":"MA5","i":30,"v":9000},{"n":"MA5","i":33,"v":8000},{"n":"MA5","i":36,"v":8000},{"n":"MA5","i":39,"v":12330},{"n":"MA5","i":42,"v":8000},{"n":"MA5","i":45,"v":9670},{"n":"MA5","i":48,"v":8670},{"n":"MA5","i":51,"v":11670},{"n":"MA5","i":54,"v":11000},{"n":"MA5","i":57,"v":13670},{"n":"MA5","i":60,"v":10330},{"n":"MA5","i":63,"v":7670},{"n":"MA5","i":66,"v":6330},{"n":"MA5","i":69,"v":7000},{"n":"MA5","i":72,"v":19330},{"n":"MA5","i":75,"v":25330},{"n":"MA5","i":78,"v":15000},{"n":"MA5","i":81,"v":15000},{"n":"MA5","i":84,"v":17000},{"n":"MA5","i":87,"v":23670},{"n":"MA5","i":90,"v":20000},{"n":"MA5","i":93,"v":12330},{"n":"MA5","i":96,"v":8670},{"n":"MA5","i":99,"v":9000},{"n":"MA5","i":102,"v":8000},{"n":"MA5","i":105,"v":13000},{"n":"MA5","i":108,"v":8000},{"n":"MA5","i":111,"v":6670},{"n":"MA5","i":114,"v":7670},{"n":"MA5","i":117,"v":5330},{"n":"MA5","i":120,"v":6000},{"n":"MA5","i":123,"v":5670},{"n":"MA5","i":126,"v":12330},{"n":"MA5","i":129,"v":39000},{"n":"MA5","i":132,"v":20670},{"n":"MA5","i":135,"v":14330},{"n":"MA5","i":138,"v":22330},{"n":"MA5","i":141,"v":18000},{"n":"MA5","i":144,"v":14330},{"n":"MA5","i":147,"v":40000},{"n":"MA5","i":150,"v":51330},{"n":"MA5","i":153,"v":42670},{"n":"MA5","i":156,"v":23330},{"n":"MA5","i":159,"v":16330},{"n":"MA5","i":162,"v":14000},{"n":"MA5","i":165,"v":13670},{"n":"MA5","i":168,"v":12670},{"n":"MA5","i":171,"v":28000},{"n":"MA5","i":174,"v":32330},{"n":"MA5","i":177,"v":22330},{"n":"MA5","i":180,"v":15330},{"n":"MA5","i":183,"v":11000},{"n":"MA5","i":186,"v":11330},{"n":"MA5","i":189,"v":12330},{"n":"MA5","i":192,"v":12670},{"n":"MA5","i":195,"v":32670},{"n":"MA5","i":198,"v":14000},{"n":"MA5","i":201,"v":12000},{"n":"MA5","i":204,"v":11000},{"n":"MA5","i":207,"v":13670},{"n":"MA5","i":210,"v":23330},{"n":"MA5","i":213,"v":14000},{"n":"MA5","i":216,"v":35330},{"n":"MA5","i":219,"v":26925}
],
"lv":[
{"p":33.94,"s":27,"t":"gap"},{"p":23.32,"t":"mag"},{"p":20.87,"t":"band"},{"p":20.4,"t":"mag"},{"p":19.9,"s":170,"t":"gap"},{"p":18.2,"t":"band"},{"p":15.6,"t":"low"}
],
"ann":[
{"i":9,"p":36.8,"t":"36.97"},{"i":24.5,"p":34.3,"t":"34.02 - 33.86"},{"i":29,"p":31.36,"t":"30.97 - 30.96"},{"i":69,"p":15.31,"t":"←15.31"},{"i":170,"p":19.4,"t":"19.76 - 20.00"},{"i":215,"p":20.17,"t":"20.73 -"}
],
"circ":[{"i":125.7,"p":16.85}],
"sig":[{"i":134},{"i":135},{"i":137},{"i":138},{"i":139},{"i":142},{"i":143},{"i":147},{"i":148},{"i":149},{"i":150},{"i":154},{"i":156},{"i":157},{"i":158},{"i":159},{"i":160},{"i":161},{"i":163},{"i":165},{"i":167},{"i":169},{"i":170},{"i":172},{"i":174},{"i":175},{"i":176},{"i":177},{"i":179},{"i":180},{"i":181},{"i":183},{"i":184},{"i":185},{"i":186},{"i":188},{"i":190},{"i":191},{"i":193},{"i":194},{"i":195},{"i":196},{"i":197},{"i":202},{"i":205},{"i":208},{"i":212},{"i":213},{"i":214},{"i":215},{"i":217},{"i":219}]
},
"vconcat":[
{
"width":776,"height":272,
"layer":[
{"data":{"name":"lv"},"transform":[{"filter":"!isValid(datum.s)"}],"mark":"rule",
 "encoding":{
  "y":{"field":"p","type":"quantitative","title":null,"scale":{"domain":[14.53,38.125],"nice":false,"zero":false},
       "axis":{"orient":"right","values":[16,18,20,22,24,26,28,30,32,34,36],"format":".2f","grid":true,"tickSize":3,"labelPadding":2,"domain":true,"title":null}},
  "color":{"condition":[{"test":"datum.t==='mag'","value":"#ff3cff"},{"test":"datum.t==='band'","value":"#d8a2a2"},{"test":"datum.t==='low'","value":"#ff4a4a"}],"value":"#a8a8a8"},
  "strokeWidth":{"condition":[{"test":"datum.t==='mag'","value":1.2},{"test":"datum.t==='low'","value":1.5}],"value":2.5}
 }},
{"data":{"name":"lv"},"transform":[{"filter":"isValid(datum.s)"}],"mark":"rule",
 "encoding":{
  "x":{"field":"s","type":"quantitative","title":null,"scale":{"domain":[-0.57,221.7],"nice":false,"zero":false},
       "axis":{"orient":"bottom","values":[5.4,18.0,30.6,43.1,55.7,68.3,80.9,93.4,106.0,118.6,131.1,143.7,156.3,168.9,181.4,194.0,206.6],"grid":true,"labels":false,"ticks":false,"domain":true,"domainColor":"#505050","title":null}},
  "x2":{"datum":221.7},
  "y":{"field":"p","type":"quantitative","title":null,"scale":{"domain":[14.53,38.125],"nice":false,"zero":false},
       "axis":{"orient":"right","values":[16,18,20,22,24,26,28,30,32,34,36],"format":".2f","grid":true,"tickSize":3,"labelPadding":2,"domain":true,"title":null}},
  "color":{"value":"#a8a8a8"},
  "strokeWidth":{"value":2.5}
 }},
{"data":{"name":"k"},"mark":{"type":"rule","strokeWidth":1},
 "encoding":{
  "x":{"field":"i","type":"quantitative","title":null,"scale":{"domain":[-0.57,221.7],"nice":false,"zero":false},
       "axis":{"orient":"bottom","values":[5.4,18.0,30.6,43.1,55.7,68.3,80.9,93.4,106.0,118.6,131.1,143.7,156.3,168.9,181.4,194.0,206.6],"grid":true,"labels":false,"ticks":false,"domain":true,"domainColor":"#505050","title":null}},
  "y":{"field":"l","type":"quantitative","title":null,"scale":{"domain":[14.53,38.125],"nice":false,"zero":false},
       "axis":{"orient":"right","values":[16,18,20,22,24,26,28,30,32,34,36],"format":".2f","grid":true,"tickSize":3,"labelPadding":2,"domain":true,"title":null}},
  "y2":{"field":"h"},
  "color":{"condition":{"test":"datum.c >= datum.o","value":"#ff2d2d"},"value":"#118a8a"}
 }},
{"data":{"name":"k"},"mark":{"type":"bar","size":2.2},
 "encoding":{
  "x":{"field":"i","type":"quantitative","title":null,"scale":{"domain":[-0.57,221.7],"nice":false,"zero":false},
       "axis":{"orient":"bottom","values":[5.4,18.0,30.6,43.1,55.7,68.3,80.9,93.4,106.0,118.6,131.1,143.7,156.3,168.9,181.4,194.0,206.6],"grid":true,"labels":false,"ticks":false,"domain":true,"domainColor":"#505050","title":null}},
  "y":{"field":"o","type":"quantitative","title":null,"scale":{"domain":[14.53,38.125],"nice":false,"zero":false},
       "axis":{"orient":"right","values":[16,18,20,22,24,26,28,30,32,34,36],"format":".2f","grid":true,"tickSize":3,"labelPadding":2,"domain":true,"title":null}},
  "y2":{"field":"c"},
  "color":{"condition":{"test":"datum.c >= datum.o","value":"#ff2d2d"},"value":"#118a8a"}
 }},
{"data":{"name":"ma"},"mark":{"type":"line","strokeWidth":1,"interpolate":"monotone"},
 "encoding":{
  "x":{"field":"i","type":"quantitative","title":null,"scale":{"domain":[-0.57,221.7],"nice":false,"zero":false},
       "axis":{"orient":"bottom","values":[5.4,18.0,30.6,43.1,55.7,68.3,80.9,93.4,106.0,118.6,131.1,143.7,156.3,168.9,181.4,194.0,206.6],"grid":true,"labels":false,"ticks":false,"domain":true,"domainColor":"#505050","title":null}},
  "y":{"field":"p","type":"quantitative","title":null,"scale":{"domain":[14.53,38.125],"nice":false,"zero":false},
       "axis":{"orient":"right","values":[16,18,20,22,24,26,28,30,32,34,36],"format":".2f","grid":true,"tickSize":3,"labelPadding":2,"domain":true,"title":null}},
  "color":{"field":"n","type":"nominal",
   "scale":{"domain":["MA5","MA10","MA20","MA30","MA60","MA120","MA180","MA250","MA360","MA500"],
            "range":["#333333","#e8363a","#29a3a3","#2f4ff0","#3b9a3b","#9a62ee","#333333","#e05050","#3aa5a5","#2f4ff0"]},
   "legend":{"orient":"top-left","offset":1,"direction":"horizontal","padding":0,
     "title":"603477 巨星农牧(日线,前复权) ◎","titleOrient":"left","titleFont":"Noto Sans CJK SC","titleFontSize":5.5,"titleFontWeight":"normal","titleColor":"#222222","titlePadding":3,
     "labelFont":"Liberation Sans","labelFontSize":6,"labelOffset":-4,"labelLimit":300,"columnPadding":0,
     "symbolSize":0,"symbolStrokeWidth":0,"symbolOpacity":0,
     "labelExpr":"datum.label + ': ' + ['22.31','21.66','21.45','21.27','21.17','21.08','19.91','19.62','22.34','-'][indexof(['MA5','MA10','MA20','MA30','MA60','MA120','MA180','MA250','MA360','MA500'], datum.label)]",
     "encode":{"labels":{"update":{"fill":{"signal":"['#333333','#e8363a','#29a3a3','#2f4ff0','#3b9a3b','#9a62ee','#333333','#e05050','#3aa5a5','#2f4ff0'][indexof(['MA5','MA10','MA20','MA30','MA60','MA120','MA180','MA250','MA360','MA500'], datum.value)]"}}}}
   }}
 }},
{"data":{"name":"ann"},"mark":{"type":"text","align":"left","baseline":"middle","dx":3,"fontSize":6.5,"color":"#202020","font":"Liberation Sans"},
 "encoding":{
  "x":{"field":"i","type":"quantitative","title":null,"scale":{"domain":[-0.57,221.7],"nice":false,"zero":false},
       "axis":{"orient":"bottom","values":[5.4,18.0,30.6,43.1,55.7,68.3,80.9,93.4,106.0,118.6,131.1,143.7,156.3,168.9,181.4,194.0,206.6],"grid":true,"labels":false,"ticks":false,"domain":true,"domainColor":"#505050","title":null}},
  "y":{"field":"p","type":"quantitative","title":null,"scale":{"domain":[14.53,38.125],"nice":false,"zero":false},
       "axis":{"orient":"right","values":[16,18,20,22,24,26,28,30,32,34,36],"format":".2f","grid":true,"tickSize":3,"labelPadding":2,"domain":true,"title":null}},
  "text":{"field":"t"}
 }},
{"data":{"name":"circ"},"mark":{"type":"point","shape":"circle","size":420,"filled":false,"stroke":"#e04848","strokeWidth":1},
 "encoding":{
  "x":{"field":"i","type":"quantitative","title":null,"scale":{"domain":[-0.57,221.7],"nice":false,"zero":false},
       "axis":{"orient":"bottom","values":[5.4,18.0,30.6,43.1,55.7,68.3,80.9,93.4,106.0,118.6,131.1,143.7,156.3,168.9,181.4,194.0,206.6],"grid":true,"labels":false,"ticks":false,"domain":true,"domainColor":"#505050","title":null}},
  "y":{"field":"p","type":"quantitative","title":null,"scale":{"domain":[14.53,38.125],"nice":false,"zero":false},
       "axis":{"orient":"right","values":[16,18,20,22,24,26,28,30,32,34,36],"format":".2f","grid":true,"tickSize":3,"labelPadding":2,"domain":true,"title":null}}
 }},
{"data":{"name":"sig"},"mark":{"type":"square","size":5,"color":"#ff30ff","opacity":1},
 "encoding":{
  "x":{"field":"i","type":"quantitative","title":null,"scale":{"domain":[-0.57,221.7],"nice":false,"zero":false},
       "axis":{"orient":"bottom","values":[5.4,18.0,30.6,43.1,55.7,68.3,80.9,93.4,106.0,118.6,131.1,143.7,156.3,168.9,181.4,194.0,206.6],"grid":true,"labels":false,"ticks":false,"domain":true,"domainColor":"#505050","title":null}},
  "y":{"datum":37.02,"type":"quantitative","title":null,"scale":{"domain":[14.53,38.125],"nice":false,"zero":false},
       "axis":{"orient":"right","values":[16,18,20,22,24,26,28,30,32,34,36],"format":".2f","grid":true,"tickSize":3,"labelPadding":2,"domain":true,"title":null}}
 }}
]
},
{
"width":776,"height":81,
"layer":[
{"data":{"name":"k"},"mark":{"type":"bar","size":2.2},
 "encoding":{
  "x":{"field":"i","type":"quantitative","title":null,"scale":{"domain":[-0.57,221.7],"nice":false,"zero":false},
       "axis":{"orient":"bottom","values":[5.4,18.0,30.6,43.1,55.7,68.3,80.9,93.4,106.0,118.6,131.1,143.7,156.3,168.9,181.4,194.0,206.6],"grid":true,"labels":false,"ticks":false,"domain":true,"domainColor":"#505050","title":null}},
  "y":{"field":"v","type":"quantitative","title":null,"scale":{"domain":[0,78000],"nice":false,"zero":true},
       "axis":{"orient":"right","values":[15000,30000,45000,60000],"format":"d","grid":true,"tickSize":3,"labelPadding":2,"labelFontSize":6,"domain":true,"title":"X10","titleAngle":0,"titleFontSize":6,"titleFontWeight":"normal","titleColor":"#202020","titleX":6,"titleY":76,"titleAlign":"left","titleBaseline":"middle"}},
  "color":{"condition":{"test":"datum.c >= datum.o","value":"#ff2d2d"},"value":"#118a8a"}
 }},
{"data":{"name":"vma"},"mark":{"type":"line","strokeWidth":1,"interpolate":"monotone"},
 "encoding":{
  "x":{"field":"i","type":"quantitative","title":null,"scale":{"domain":[-0.57,221.7],"nice":false,"zero":false},
       "axis":{"orient":"bottom","values":[5.4,18.0,30.6,43.1,55.7,68.3,80.9,93.4,106.0,118.6,131.1,143.7,156.3,168.9,181.4,194.0,206.6],"grid":true,"labels":false,"ticks":false,"domain":true,"domainColor":"#505050","title":null}},
  "y":{"field":"v","type":"quantitative","title":null,"scale":{"domain":[0,78000],"nice":false,"zero":true},
       "axis":{"orient":"right","values":[15000,30000,45000,60000],"format":"d","grid":true,"tickSize":3,"labelPadding":2,"labelFontSize":6,"domain":true,"title":"X10","titleAngle":0,"titleFontSize":6,"titleFontWeight":"normal","titleColor":"#202020","titleX":6,"titleY":76,"titleAlign":"left","titleBaseline":"middle"}},
  "color":{"field":"n","type":"nominal","scale":{"domain":["MA5","MA10"],"range":["#333333","#e8363a"]},
   "legend":{"orient":"top-left","offset":2,"direction":"horizontal","padding":0,
     "title":"◎ VOL-TDX(5,10) VOLUME: 246856","titleOrient":"left","titleFont":"Liberation Sans","titleFontSize":6,"titleFontWeight":"normal","titleColor":"#222222","titlePadding":3,
     "labelFont":"Liberation Sans","labelFontSize":6,"labelOffset":-4,"labelLimit":300,"columnPadding":0,
     "symbolSize":0,"symbolStrokeWidth":0,"symbolOpacity":0,
     "labelExpr":"datum.label == 'MA5' ? 'MA5: 269252' : 'MA10: 238777'",
     "encode":{"labels":{"update":{"fill":{"signal":"datum.value == 'MA5' ? '#333333' : '#e8363a'"}}}}
   }}
 }}
]
}
]
}
